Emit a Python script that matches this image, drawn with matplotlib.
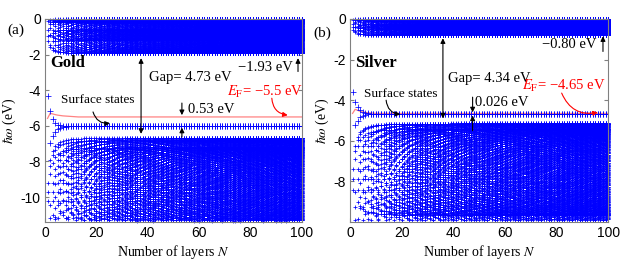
import numpy as np
import matplotlib
matplotlib.use("Agg")
import matplotlib.pyplot as plt

plt.rcParams['font.family'] = ['Liberation Serif', 'DejaVu Serif']
plt.rcParams['mathtext.fontset'] = 'stix'
plt.rcParams['axes.unicode_minus'] = False

# number of layers
layers = np.arange(1, 101)

gold_upper = [(-0.965, 0.965), (-0.6, 0.6), (-1.25, 0.68), (-0.1, 0.1)]
gold_lower = [(-9.7, 2.9), (-9.2, 2.54), (-10.2, 3.0)]
silver_upper = [(-0.40, 0.40), (-0.25, 0.25), (-0.52, 0.28), (-0.04, 0.04)]
silver_lower = [(-7.9, 2.76), (-7.4, 2.26), (-8.4, 3.0)]

# surface-state branches for the thinnest slabs (N = 1..8), then the limit
gold_surf_hi = [-4.35, -5.15, -5.6, -5.82, -5.93, -5.98, -6.01, -6.02]
gold_surf_lo = [np.nan, -6.95, -6.55, -6.32, -6.18, -6.1, -6.06, -6.04]
gold_surf = -6.03
silver_surf_hi = [-3.6, -4.1, -4.35, -4.5, -4.58, -4.63, -4.65, -4.665]
silver_surf_lo = [np.nan, -5.2, -5.0, -4.85, -4.77, -4.72, -4.7, -4.69]
silver_surf = -4.676

# Fermi level vs N
gold_ef_head = [-5.58, -5.3, -5.33, -5.37, -5.4, -5.42, -5.44, -5.45, -5.46, -5.47, -5.48, -5.49]
gold_ef = -5.5
silver_ef_head = [-4.65, -4.45, -4.5, -4.55, -4.58, -4.6, -4.62, -4.63, -4.64]
silver_ef = -4.65

BLUE = '#0000ff'
MS, MEW = 3.2, 0.55


def chain_levels(n, c, h):
    j = np.arange(1, n + 1)
    return c + h * np.cos(j * np.pi / (n + 1))


def collect(bands, ymin):
    xs, ys = [], []
    for n in layers:
        for c, h in bands:
            e = chain_levels(n, c, h)
            e = e[e >= ymin]
            xs.append(np.full(e.size, n))
            ys.append(e)
    return np.concatenate(xs), np.concatenate(ys)


def branch(head, limit):
    vals = np.full(layers.size, limit, dtype=float)
    vals[:len(head)] = head
    return vals


def panel(ax, upper, lower, s_hi, s_lo, s_lim, ef_head, ef, ylim, yticks):
    x, y = collect(upper + lower, ylim[0] + 0.08)
    ax.plot(layers, branch(ef_head, ef), color=(1, 0.3, 0.3), lw=0.9, alpha=0.7, zorder=1)
    ax.plot(x, y, '+', color=BLUE, ms=MS, mew=MEW, clip_on=False, zorder=2)
    ax.plot(layers, branch(s_hi, s_lim), '+', color=BLUE, ms=MS + 0.5, mew=MEW, zorder=2)
    ax.plot(layers, branch(s_lo, s_lim), '+', color=BLUE, ms=MS + 0.5, mew=MEW, zorder=2)
    ax.set_xlim(0, 100)
    ax.set_ylim(*ylim)
    ax.set_xticks([0, 20, 40, 60, 80, 100])
    ax.set_yticks(yticks)
    for lab in ax.get_xticklabels() + ax.get_yticklabels():
        lab.set_fontfamily('Liberation Sans')
    ax.tick_params(direction='in', length=3, color='0.5', labelsize=10,
                   right=True, top=True, pad=3)
    for sp in ax.spines.values():
        sp.set_color('0.5')
        sp.set_linewidth(0.8)
    ax.set_xlabel('Number of layers $N$', fontsize=10, labelpad=2)
    ax.set_ylabel(r'$\hbar\omega$ (eV)', fontsize=10, labelpad=2)


fig = plt.figure(figsize=(6.39, 2.6), dpi=100)
ax1 = fig.add_axes([0.0704, 0.146, 0.402, 0.781])
ax2 = fig.add_axes([0.5477, 0.146, 0.404, 0.781])

panel(ax1, gold_upper, gold_lower, gold_surf_hi, gold_surf_lo, gold_surf,
      gold_ef_head, gold_ef, (-11.4, 0), [0, -2, -4, -6, -8, -10])
panel(ax2, silver_upper, silver_lower, silver_surf_hi, silver_surf_lo, silver_surf,
      silver_ef_head, silver_ef, (-10, 0), [0, -2, -4, -6, -8])

arr = dict(arrowstyle='-|>', color='k', lw=0.8, mutation_scale=7, shrinkA=0, shrinkB=0)
arr2 = dict(arrowstyle='<|-|>', color='k', lw=0.8, mutation_scale=7, shrinkA=0, shrinkB=0)
curv = dict(arr, connectionstyle='arc3,rad=0.4')
curv_red = dict(curv, color='red')

MINUS = '\u2212'

# gold
ax1.text(2, -2.47, 'Gold', fontsize=12, fontweight='bold', va='center')
ax1.annotate('', xy=(37.4, -2.2), xytext=(37.4, -6.45), arrowprops=arr2)
ax1.text(40.5, -3.26, 'Gap= 4.73 eV', fontsize=10.5, va='center')
ax1.annotate('', xy=(98.5, -2.2), xytext=(98.5, -2.95), arrowprops=arr)
ax1.text(96.5, -2.75, MINUS + '1.93 eV', fontsize=10.5, va='center', ha='right')
ax1.text(20.6, -4.55, 'Surface states', fontsize=9.5, va='center', ha='center')
ax1.annotate('', xy=(25.3, -5.85), xytext=(18.7, -5.22), arrowprops=curv)
ax1.annotate('', xy=(53.3, -5.4), xytext=(53.3, -4.72), arrowprops=arr)
ax1.annotate('', xy=(53.3, -6.1), xytext=(53.3, -6.63), arrowprops=arr)
ax1.text(55.6, -5.06, '0.53 eV', fontsize=10.5, va='center')
ax1.text(70.8, -4.1, r'$E_{\rm F}$= ' + MINUS + '5.5 eV', fontsize=10.5, va='center', color='red')
ax1.annotate('', xy=(94.5, -5.4), xytext=(88.3, -4.45), arrowprops=curv_red)

# silver
ax2.text(2, -2.15, 'Silver', fontsize=12, fontweight='bold', va='center')
ax2.annotate('', xy=(36, -0.95), xytext=(36, -4.9), arrowprops=arr2)
ax2.text(38, -2.95, 'Gap= 4.34 eV', fontsize=10.5, va='center')
ax2.annotate('', xy=(98, -0.85), xytext=(98, -1.6), arrowprops=arr)
ax2.text(95.5, -1.25, MINUS + '0.80 eV', fontsize=10.5, va='center', ha='right')
ax2.text(19.5, -3.7, 'Surface states', fontsize=9.5, va='center', ha='center')
ax2.annotate('', xy=(19.5, -4.7), xytext=(14, -4.0), arrowprops=curv)
ax2.annotate('', xy=(47.5, -4.6), xytext=(47.5, -3.85), arrowprops=arr)
ax2.annotate('', xy=(47.5, -4.75), xytext=(47.5, -5.5), arrowprops=arr)
ax2.text(48.5, -4.1, '0.026 eV', fontsize=10.5, va='center')
ax2.text(66.5, -3.3, r'$E_{\rm F}$= ' + MINUS + '4.65 eV', fontsize=10.5, va='center', color='red')
ax2.annotate('', xy=(96, -4.6), xytext=(82, -3.65), arrowprops=curv_red)

fig.text(0.011, 0.885, '(a)', fontsize=11, va='center')
fig.text(0.49, 0.873, '(b)', fontsize=11, va='center')

fig.savefig('out.png', dpi=100)
